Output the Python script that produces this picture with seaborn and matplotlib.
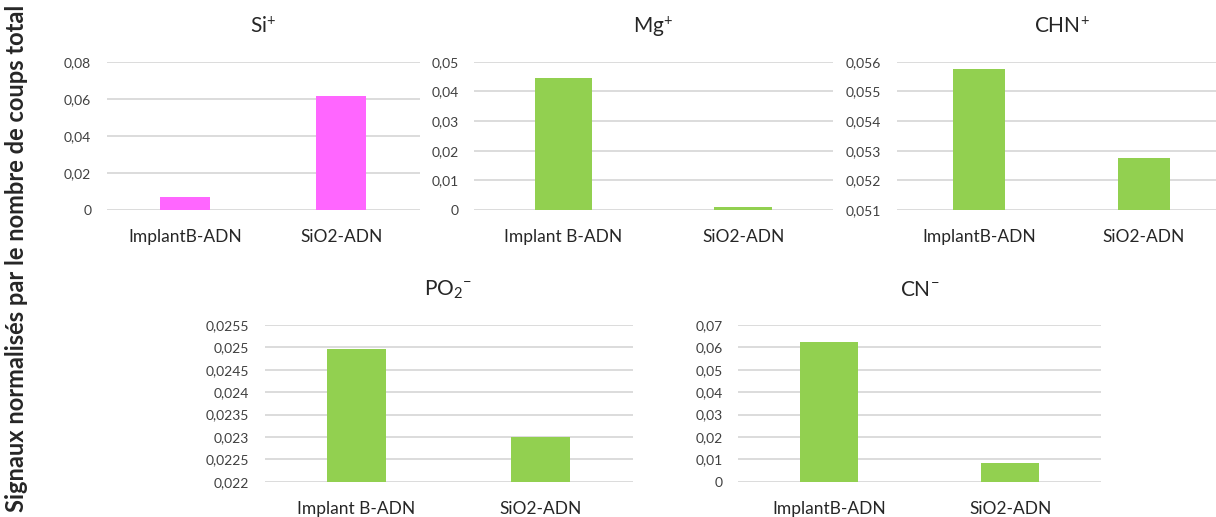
import numpy as np
import pandas as pd
import matplotlib
matplotlib.use("Agg")
import matplotlib.pyplot as plt
from matplotlib.ticker import MultipleLocator, FuncFormatter
import seaborn as sns

# ---- data ----
cats_a = ["ImplantB-ADN", "SiO2-ADN"]
cats_b = ["Implant B-ADN", "SiO2-ADN"]

si_vals = [0.0069, 0.0617]
mg_vals = [0.0444, 0.0011]
chn_vals = [0.05576, 0.05274]
po2_vals = [0.02496, 0.02300]
cn_vals = [0.0623, 0.0082]

titles = ["Si$^{+}$", "Mg$^{+}$", "CHN$^{+}$", "PO$_{2}$$^{-}$", "CN$^{-}$"]
ylabel = "Signaux normalisés par le nombre de coups total"

PINK = "#FF66FF"
GREEN = "#92D050"
GRID = "#D9D9D9"
TXT = "#404040"

sns.set_theme(style="white")
plt.rcParams["font.family"] = ["Lato", "DejaVu Sans"]
plt.rcParams["mathtext.fontset"] = "custom"
plt.rcParams["mathtext.rm"] = "Lato"
plt.rcParams["mathtext.it"] = "Lato"

W, H = 1216, 517
fig = plt.figure(figsize=(W / 100, H / 100), dpi=100)


def make_ax(left, right, top, bottom):
    return fig.add_axes([left / W, (H - bottom) / H, (right - left) / W, (bottom - top) / H])


panels = [
    # (left, right, top, bottom, cats, vals, color, ylim, step, title, xmax)
    (106.5, 419.5, 61.7, 210, cats_a, si_vals, PINK, (0, 0.08), 0.02, titles[0], 1.5),
    (473.75, 833, 61.7, 210, cats_b, mg_vals, GREEN, (0, 0.05), 0.01, titles[1], 1.5),
    (896.5, 1216, 61.7, 210, cats_a, chn_vals, GREEN, (0.051, 0.056), 0.001, titles[2], -0.5 + 319.5 / 165),
    (264.5, 632.5, 325, 481.7, cats_b, po2_vals, GREEN, (0.022, 0.0255), 0.0005, titles[3], 1.5),
    (738, 1101, 325, 481.7, cats_a, cn_vals, GREEN, (0, 0.07), 0.01, titles[4], 1.5),
]

fmt = FuncFormatter(lambda v, p: ("{:g}".format(round(v, 6))).replace(".", ","))

for (l, r, t, b, cats, vals, col, ylim, step, title, xmax) in panels:
    ax = make_ax(l, r, t, b)
    df = pd.DataFrame({"cat": cats, "val": vals})
    sns.barplot(data=df, x="cat", y="val", color=col, width=0.32, ax=ax,
                saturation=1, edgecolor=col, linewidth=0)
    ax.set_ylim(*ylim)
    ax.set_xlim(-0.5, xmax)
    ax.yaxis.set_major_locator(MultipleLocator(step))
    ax.yaxis.set_major_formatter(fmt)
    ax.set_axisbelow(True)
    ax.yaxis.grid(True, color=GRID, lw=1.3)
    ax.xaxis.grid(False)
    for s in ax.spines.values():
        s.set_visible(False)
    ax.tick_params(axis="y", length=0, pad=11, labelsize=10, labelcolor=TXT)
    ax.tick_params(axis="x", length=0, pad=14, labelsize=12.5, labelcolor="#262626")
    ax.set_xlabel("")
    ax.set_ylabel("")
    ax.patch.set_alpha(0)
    cx = (l + (l + 2 * (r - l) / (xmax + 0.5))) / 2 if xmax != 1.5 else (l + r) / 2
    ax.set_title("")
    fig.text(cx / W, 1 - (t - 35) / H, title, ha="center", va="center",
             fontsize=15, color="#262626")

fig.text(17 / W, 0.5, ylabel, rotation=90, ha="center", va="center",
         fontsize=17, fontweight="bold", color="#262626")

fig.savefig("out.png", dpi=100, facecolor="white")
